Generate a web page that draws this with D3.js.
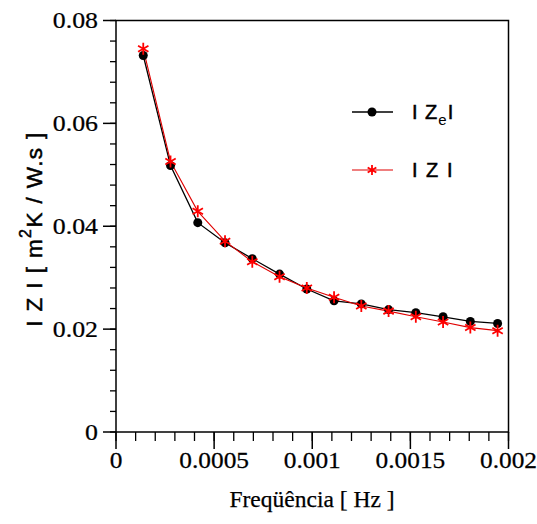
<!DOCTYPE html>
<html><head><meta charset="utf-8">
<script src="https://cdn.jsdelivr.net/npm/d3@7"></script>
<style>body{margin:0;background:#fff}svg{display:block}</style>
</head><body>
<svg id="c" width="537" height="524"></svg>
<script>
const freqStep = [1,2,3,4,5,6,7,8,9,10,11,12,13,14];
const freq = freqStep.map(k => k/7200);
const zExp = [0.0732,0.0518,0.0407,0.0368,0.0337,0.0307,0.0278,0.0255,0.0249,0.0238,0.0232,0.0224,0.0215,0.0211];
const zMod = [0.0745,0.0526,0.0429,0.0371,0.0331,0.0302,0.0280,0.0262,0.0245,0.0235,0.0224,0.0214,0.0203,0.0197];
const xTicks = [0,0.0005,0.001,0.0015,0.002];
const xTickLabels = ["0","0.0005","0.001","0.0015","0.002"];
const yTicks = [0,0.02,0.04,0.06,0.08];
const yTickLabels = ["0","0.02","0.04","0.06","0.08"];

const SERIF = "'Liberation Serif', 'Times New Roman', Times, serif";
const SANS = "'Liberation Sans', Arial, Helvetica, sans-serif";

const svg = d3.select("#c");
const L=116, R=508.5, T=20.5, B=432;
const x = d3.scaleLinear().domain([0,0.002]).range([L,R]);
const y = d3.scaleLinear().domain([0,0.08]).range([B,T]);

// frame
svg.append("rect").attr("x",L).attr("y",T).attr("width",R-L).attr("height",B-T)
  .attr("fill","none").attr("stroke","#000").attr("stroke-width",1.5);

// x axis ticks
const xMinor = d3.range(0,0.00201,0.0001);
svg.append("g").selectAll("line").data(xMinor).join("line")
  .attr("x1",d=>x(d)).attr("x2",d=>x(d)).attr("y1",B).attr("y2",B+9)
  .attr("stroke","#000").attr("stroke-width",1.3);
svg.append("g").selectAll("line").data(xTicks).join("line")
  .attr("x1",d=>x(d)).attr("x2",d=>x(d)).attr("y1",B).attr("y2",B+17)
  .attr("stroke","#000").attr("stroke-width",1.5);
svg.append("g").selectAll("text").data(xTicks).join("text")
  .attr("x",d=>x(d)).attr("y",468).attr("text-anchor","middle")
  .attr("font-family",SERIF).attr("font-size",23.5).attr("stroke","#000").attr("stroke-width",0.25)
  .attr("transform",d=>`translate(${x(d)},0) scale(1.08,1) translate(${-x(d)},0)`)
  .text((d,i)=>xTickLabels[i]);

// y axis ticks
const yMinor = d3.range(0,0.0801,0.004);
svg.append("g").selectAll("line").data(yMinor).join("line")
  .attr("x1",L-6).attr("x2",L).attr("y1",d=>y(d)).attr("y2",d=>y(d))
  .attr("stroke","#000").attr("stroke-width",1.3);
svg.append("g").selectAll("line").data(yTicks).join("line")
  .attr("x1",L-13).attr("x2",L).attr("y1",d=>y(d)).attr("y2",d=>y(d))
  .attr("stroke","#000").attr("stroke-width",1.5);
svg.append("g").selectAll("text").data(yTicks).join("text")
  .attr("x",98).attr("y",d=>y(d)+8).attr("text-anchor","end")
  .attr("font-family",SERIF).attr("font-size",23.5).attr("stroke","#000").attr("stroke-width",0.25)
  .attr("transform",`translate(98,0) scale(1.1,1) translate(-98,0)`)
  .text((d,i)=>yTickLabels[i]);

// axis titles
svg.append("text").attr("x",312).attr("y",507).attr("text-anchor","middle")
  .attr("font-family",SERIF).attr("font-size",23.5).attr("stroke","#000").attr("stroke-width",0.25)
  .text("Freqüência [ Hz ]");
const yt = svg.append("text").attr("transform","translate(42,229) rotate(-90)")
  .attr("text-anchor","middle").attr("font-family",SANS).attr("font-size",22.5)
  .attr("letter-spacing",1.4).attr("stroke","#000").attr("stroke-width",0.5);
yt.append("tspan").text("I Z I [ m");
yt.append("tspan").attr("dy",-11).attr("font-size",16).text("2");
yt.append("tspan").attr("dy",11).text("K / W.s ]");

// lines
const line = d3.line().x((d,i)=>x(freq[i])).y(d=>y(d));
svg.append("path").datum(zExp).attr("d",line).attr("fill","none").attr("stroke","#000").attr("stroke-width",1.3);
svg.append("path").datum(zMod).attr("d",line).attr("fill","none").attr("stroke","#e00000").attr("stroke-width",1.1);

// markers
svg.append("g").selectAll("circle").data(zExp).join("circle")
  .attr("cx",(d,i)=>x(freq[i])).attr("cy",d=>y(d)).attr("r",4.5).attr("fill","#000");
function ast(cx,cy,r){
  const a=r*Math.cos(Math.PI/6), b=r*Math.sin(Math.PI/6);
  return `M${cx},${cy-r}L${cx},${cy+r}M${cx-a},${cy-b}L${cx+a},${cy+b}M${cx-a},${cy+b}L${cx+a},${cy-b}`;
}
svg.append("g").selectAll("path").data(zMod).join("path")
  .attr("d",(d,i)=>ast(x(freq[i]),y(d),6)).attr("stroke","#ff0000").attr("stroke-width",1.8).attr("fill","none");

// legend
const lg = svg.append("g");
lg.append("line").attr("x1",352).attr("x2",393).attr("y1",112).attr("y2",112).attr("stroke","#000").attr("stroke-width",1.3);
lg.append("circle").attr("cx",372).attr("cy",112).attr("r",4.5).attr("fill","#000");
const t1 = lg.append("text").attr("x",412).attr("y",119).attr("font-family",SANS).attr("font-size",20)
  .attr("letter-spacing",1).attr("stroke","#000").attr("stroke-width",0.5);
t1.append("tspan").text("I Z");
t1.append("tspan").attr("dy",6).attr("font-size",15).attr("stroke-width",0).text("e");
t1.append("tspan").attr("dy",-6).text("I");
lg.append("line").attr("x1",352).attr("x2",393).attr("y1",170).attr("y2",170).attr("stroke","#e00000").attr("stroke-width",1.1);
lg.append("path").attr("d",ast(372,170,5)).attr("stroke","#ff0000").attr("stroke-width",1.8).attr("fill","none");
lg.append("text").attr("x",412).attr("y",177).attr("font-family",SANS).attr("font-size",20)
  .attr("letter-spacing",1.5).attr("stroke","#000").attr("stroke-width",0.5).text("I Z I");
</script>
</body></html>
